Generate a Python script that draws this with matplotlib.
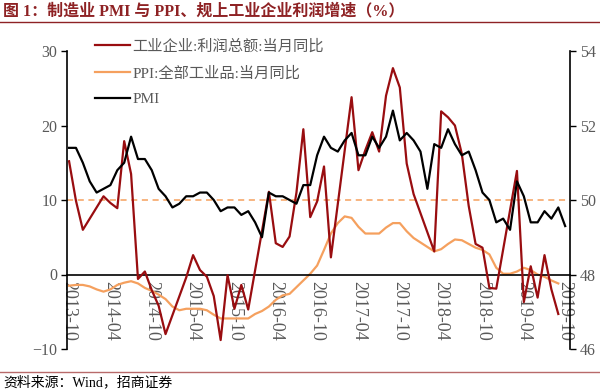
import numpy as np
import matplotlib
matplotlib.use("Agg")
import matplotlib.pyplot as plt
from matplotlib.lines import Line2D

plt.rcParams['font.family'] = ['Liberation Serif', 'Noto Sans CJK SC', 'DejaVu Sans']

nan = np.nan
# monthly, 2013-10 .. 2019-10
months = [f"{y}-{m:02d}" for y in range(2013, 2020) for m in range(1, 13)]
months = months[months.index("2013-10"):months.index("2019-10") + 1]

profit = [15.2, 9.9, 6.0,
          nan, nan, 10.5, 9.6, 8.9, 17.9, 13.5, -0.6, 0.4, -2.1, -4.2, -8.0,
          nan, nan, -0.4, 2.6, 0.6, -0.3, -2.9, -8.8, -0.1, -4.6, -1.4, -4.7,
          nan, nan, 11.1, 4.2, 3.7, 5.1, 11.0, 19.5, 7.7, 9.8, 14.5, 2.3,
          nan, nan, 23.8, 14.0, 16.7, 19.1, 16.5, 24.0, 27.7, 25.1, 14.9, 10.8,
          nan, nan, 3.1, 21.9, 21.1, 20.0, 16.2, 9.2, 4.1, 3.6, -1.8, -1.9,
          nan, nan, 13.9, -3.7, 1.1, -3.1, 2.6, -2.0, -5.3, nan]

ppi = [-1.5, -1.4, -1.4,
       -1.6, -2.0, -2.3, -2.0, -1.4, -1.1, -0.9, -1.2, -1.8, -2.2, -2.7, -3.3,
       -4.3, -4.8, -4.6, -4.6, -4.6, -4.8, -5.4, -5.9, -5.9, -5.9, -5.9, -5.9,
       -5.3, -4.9, -4.3, -3.4, -2.8, -2.6, -1.7, -0.8, 0.1, 1.2, 3.3, 5.5,
       6.9, 7.8, 7.6, 6.4, 5.5, 5.5, 5.5, 6.3, 6.9, 6.9, 5.8, 4.9,
       4.3, 3.7, 3.1, 3.4, 4.1, 4.7, 4.6, 4.1, 3.6, 3.3, 2.7, 0.9,
       0.1, 0.1, 0.4, 0.9, 0.6, 0.0, -0.3, -0.8, -1.2, nan]

pmi = [51.4, 51.4, 51.0,
       50.5, 50.2, 50.3, 50.4, 50.8, 51.0, 51.7, 51.1, 51.1, 50.8, 50.3, 50.1,
       49.8, 49.9, 50.1, 50.1, 50.2, 50.2, 50.0, 49.7, 49.8, 49.8, 49.6, 49.7,
       49.4, 49.0, 50.2, 50.1, 50.1, 50.0, 49.9, 50.4, 50.4, 51.2, 51.7, 51.4,
       51.3, 51.6, 51.8, 51.2, 51.2, 51.7, 51.4, 51.7, 52.4, 51.6, 51.8, 51.6,
       51.3, 50.3, 51.5, 51.4, 51.9, 51.5, 51.2, 51.3, 50.8, 50.2, 50.0, 49.4,
       49.5, 49.2, 50.5, 50.1, 49.4, 49.4, 49.7, 49.5, 49.8, 49.3]

labels = ["工业企业:利润总额:当月同比", "PPI:全部工业品:当月同比", "PMI"]
tick_months = months[::6]

RED = '#990D10'
ORANGE = '#F5A05E'
GREY = '#595959'
TITLE_C = '#8E2224'

x = np.arange(len(months))
profit = np.array(profit)
ppi = np.array(ppi)
pmi = np.array(pmi)

fig = plt.figure(figsize=(6, 3.9), dpi=100)
ax = fig.add_axes([67/600, 41/390, (570-67)/600, (349-51)/390])
ax2 = ax.twinx()

for a in (ax, ax2):
    a.spines['top'].set_visible(False)
ax.spines['right'].set_visible(False)
ax2.spines['left'].set_visible(False)
ax2.spines['bottom'].set_visible(False)
ax.spines['bottom'].set_position(('data', 0))
ax.spines['bottom'].set_linewidth(1.2)
ax.spines['left'].set_linewidth(1.2)
ax2.spines['right'].set_linewidth(1.2)
ax2.xaxis.set_visible(False)

m = ~np.isnan(profit)
l1, = ax.plot(x[m], profit[m], color=RED, lw=1.6, zorder=3)
m = ~np.isnan(ppi)
l2, = ax.plot(x[m], ppi[m], color=ORANGE, lw=1.6, zorder=2)
ax.axhline(10, color=ORANGE, lw=1.1, ls=(0, (4, 3)), zorder=1)
l3, = ax2.plot(x, pmi, color='black', lw=1.6)

ax.set_ylim(-10, 30)
ax.set_yticks([-10, 0, 10, 20, 30])
ax2.set_ylim(46, 54)
ax2.set_yticks([46, 48, 50, 52, 54])
ax.set_xlim(-0.3, 72.7)

idx = [months.index(t) for t in tick_months]
ax.set_xticks(idx)
ax.set_xticklabels(tick_months)
ax.tick_params(axis='x', length=0, pad=5, labelrotation=270, labelsize=13, labelcolor=GREY)
for t in ax.get_xticklabels():
    t.set_va('top')
    t.set_ha('center')
ax.tick_params(axis='y', direction='out', length=4, width=1, labelsize=11.5, labelcolor=GREY, pad=3)
ax2.tick_params(axis='y', direction='out', length=4, width=1, labelsize=11.5, labelcolor=GREY, pad=3)

leg = ax2.legend([l1, l2, l3], labels, loc='upper left',
                 bbox_to_anchor=(95/600, 1 - 39/390), bbox_transform=fig.transFigure,
                 frameon=False, fontsize=11, handlelength=2.3, handletextpad=0.15,
                 labelspacing=0.82, borderpad=0, borderaxespad=0)
for t in leg.get_texts():
    t.set_color(GREY)

fig.text(0.005, 1 - 11/390, "图 1：制造业 PMI 与 PPI、规上工业企业利润增速（%）",
         fontsize=11.5, fontweight='bold', color=TITLE_C, va='center', ha='left')
fig.add_artist(Line2D([0, 1], [1 - 22/390, 1 - 22/390], transform=fig.transFigure,
                      color=TITLE_C, lw=1.0))
fig.add_artist(Line2D([0, 1], [1 - 372/390, 1 - 372/390], transform=fig.transFigure,
                      color='#B86A6A', lw=1.0))
fig.text(0.005, 1 - 382/390, "资料来源：Wind，招商证券", fontsize=10,
         color='black', va='center', ha='left')

fig.savefig("out.png", dpi=100)
